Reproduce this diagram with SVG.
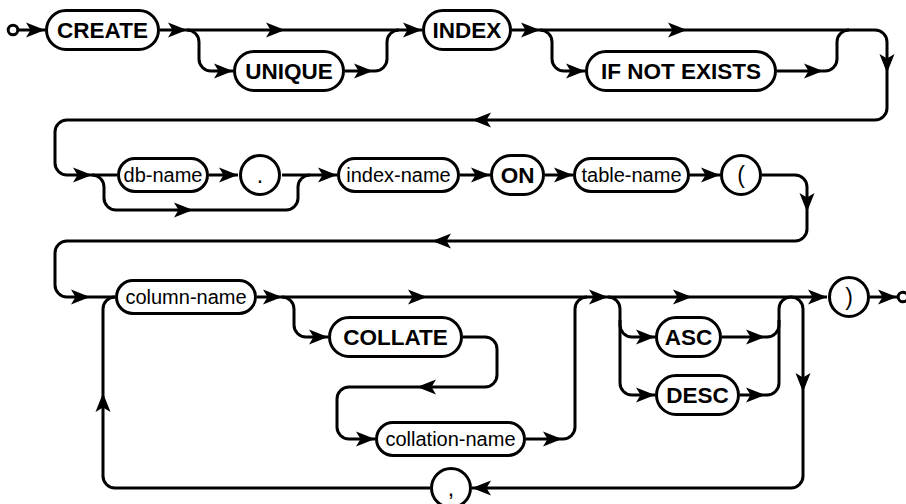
<svg xmlns="http://www.w3.org/2000/svg" xmlns:xlink="http://www.w3.org/1999/xlink" width="906" height="504" viewBox="0 0 906 504">
<style>
.ln{fill:none;stroke:#000;stroke-width:3}
.bx{fill:#fff;stroke:#000;stroke-width:3}
.kw{font-family:"Liberation Sans",Arial,sans-serif;font-weight:bold;font-size:22.5px;text-anchor:middle;fill:#000}
.pn{font-family:"Liberation Sans",Arial,sans-serif;font-size:23px;text-anchor:middle;fill:#000}
.id{font-family:"Liberation Sans",Arial,sans-serif;font-size:20px;text-anchor:middle;fill:#000}
.ah{fill:#000;stroke:none}
</style>
<defs>
<path id="a" class="ah" d="M0,0 L-19,-7.5 L-14.5,0 L-19,7.5 Z"/>
</defs>
<rect width="906" height="504" fill="#fff"/>
<g id="connectors">
<path class="ln" d="M17,30 H45"/>
<path class="ln" d="M160,30 H422"/>
<path class="ln" d="M187,30 A12,12 0 0 1 199,42 V59 A12,12 0 0 0 211,71 H233"/>
<path class="ln" d="M345,71 H375 A12,12 0 0 0 387,59 V42 A12,12 0 0 1 399,30"/>
<path class="ln" d="M512,30 H875 A12,12 0 0 1 887,42 V108 A12,12 0 0 1 875,120 H67 A12,12 0 0 0 55,132 V163 A12,12 0 0 0 67,175 H117"/>
<path class="ln" d="M540,30 A12,12 0 0 1 552,42 V59 A12,12 0 0 0 564,71 H585"/>
<path class="ln" d="M777,71 H825 A12,12 0 0 0 837,59 V42 A12,12 0 0 1 849,30"/>
<path class="ln" d="M92,175 A12,12 0 0 1 104,187 V198 A12,12 0 0 0 116,210 H286 A12,12 0 0 0 298,198 V187 A12,12 0 0 1 310,175"/>
<path class="ln" d="M209,175 H238"/>
<path class="ln" d="M282,175 H337"/>
<path class="ln" d="M460,175 H490"/>
<path class="ln" d="M545,175 H573"/>
<path class="ln" d="M690,175 H720"/>
<path class="ln" d="M762,175 H795 A12,12 0 0 1 807,187 V229 A12,12 0 0 1 795,241 H67 A12,12 0 0 0 55,253 V285 A12,12 0 0 0 67,297 H115"/>
<path class="ln" d="M257,297 H827"/>
<path class="ln" d="M282,297 A12,12 0 0 1 294,309 V325 A12,12 0 0 0 306,337 H328"/>
<path class="ln" d="M463,337 H485 A12,12 0 0 1 497,349 V375 A12,12 0 0 1 485,387 H349 A12,12 0 0 0 337,399 V427 A12,12 0 0 0 349,439 H375"/>
<path class="ln" d="M526,439 H563 A12,12 0 0 0 575,427 V309 A12,12 0 0 1 587,297"/>
<path class="ln" d="M608,297 A12,12 0 0 1 620,309 V325 A12,12 0 0 0 632,337 H655"/>
<path class="ln" d="M620,320 V383 A12,12 0 0 0 632,395 H655"/>
<path class="ln" d="M722,337 H767 A12,12 0 0 0 779,325 V309 A12,12 0 0 1 791,297"/>
<path class="ln" d="M740,395 H767 A12,12 0 0 0 779,383 V320"/>
<path class="ln" d="M791,297 A12,12 0 0 1 803,309 V476 A12,12 0 0 1 791,488 H472"/>
<path class="ln" d="M430,488 H115 A12,12 0 0 1 103,476 V309 A12,12 0 0 1 115,297"/>
<path class="ln" d="M870,297 H897"/>
<use xlink:href="#a" transform="translate(45,30)"/>
<use xlink:href="#a" transform="translate(187,30)"/>
<use xlink:href="#a" transform="translate(285,30)"/>
<use xlink:href="#a" transform="translate(233,71)"/>
<use xlink:href="#a" transform="translate(373,71)"/>
<use xlink:href="#a" transform="translate(422,30)"/>
<use xlink:href="#a" transform="translate(540,30)"/>
<use xlink:href="#a" transform="translate(687,30)"/>
<use xlink:href="#a" transform="translate(585,71)"/>
<use xlink:href="#a" transform="translate(823,71)"/>
<use xlink:href="#a" transform="translate(887,73) rotate(90)"/>
<use xlink:href="#a" transform="translate(472,120) rotate(180)"/>
<use xlink:href="#a" transform="translate(92,175)"/>
<use xlink:href="#a" transform="translate(193,210)"/>
<use xlink:href="#a" transform="translate(238,175)"/>
<use xlink:href="#a" transform="translate(337,175)"/>
<use xlink:href="#a" transform="translate(490,175)"/>
<use xlink:href="#a" transform="translate(573,175)"/>
<use xlink:href="#a" transform="translate(720,175)"/>
<use xlink:href="#a" transform="translate(807,212) rotate(90)"/>
<use xlink:href="#a" transform="translate(432,241) rotate(180)"/>
<use xlink:href="#a" transform="translate(90,297)"/>
<use xlink:href="#a" transform="translate(282,297)"/>
<use xlink:href="#a" transform="translate(427,297)"/>
<use xlink:href="#a" transform="translate(328,337)"/>
<use xlink:href="#a" transform="translate(417,387) rotate(180)"/>
<use xlink:href="#a" transform="translate(375,439)"/>
<use xlink:href="#a" transform="translate(562,439)"/>
<use xlink:href="#a" transform="translate(608,297)"/>
<use xlink:href="#a" transform="translate(692,297)"/>
<use xlink:href="#a" transform="translate(655,337)"/>
<use xlink:href="#a" transform="translate(655,395)"/>
<use xlink:href="#a" transform="translate(765,337)"/>
<use xlink:href="#a" transform="translate(765,395)"/>
<use xlink:href="#a" transform="translate(827,297)"/>
<use xlink:href="#a" transform="translate(803,392) rotate(90)"/>
<use xlink:href="#a" transform="translate(472,488) rotate(180)"/>
<use xlink:href="#a" transform="translate(103,393) rotate(-90)"/>
<use xlink:href="#a" transform="translate(897,297)"/>
</g>
<g id="start"><circle class="bx" cx="13" cy="30" r="4.8"/></g>
<g id="end"><circle class="bx" cx="903" cy="297" r="4.8"/></g>
<g id="create"><rect class="bx" x="46.5" y="10.5" width="112" height="39" rx="19.5"/><text class="kw" x="102.5" y="38">CREATE</text></g>
<g id="unique"><rect class="bx" x="234.5" y="51.5" width="109" height="39" rx="19.5"/><text class="kw" x="289" y="79">UNIQUE</text></g>
<g id="index"><rect class="bx" x="423.5" y="10.5" width="87" height="39" rx="19.5"/><text class="kw" x="467" y="38">INDEX</text></g>
<g id="ifnotexists"><rect class="bx" x="586.5" y="51.5" width="189" height="39" rx="19.5"/><text class="kw" x="681" y="79">IF NOT EXISTS</text></g>
<g id="dbname"><rect class="bx" x="118.5" y="158.5" width="89" height="33" rx="16.5"/><text class="id" x="163" y="182">db-name</text></g>
<g id="dot"><circle class="bx" cx="260" cy="175" r="19.5"/><text class="pn" x="260" y="183">.</text></g>
<g id="indexname"><rect class="bx" x="338.5" y="158.5" width="120" height="33" rx="16.5"/><text class="id" x="398.5" y="182">index-name</text></g>
<g id="on"><rect class="bx" x="491.5" y="155.5" width="52" height="39" rx="19.5"/><text class="kw" x="517.5" y="183">ON</text></g>
<g id="tablename"><rect class="bx" x="574.5" y="158.5" width="114" height="33" rx="16.5"/><text class="id" x="631.5" y="182">table-name</text></g>
<g id="lparen"><circle class="bx" cx="741" cy="175" r="19.5"/><text class="pn" x="741" y="183">(</text></g>
<g id="columnname"><rect class="bx" x="116.5" y="280.5" width="139" height="33" rx="16.5"/><text class="id" x="186" y="304">column-name</text></g>
<g id="collate"><rect class="bx" x="329.5" y="317.5" width="132" height="39" rx="19.5"/><text class="kw" x="395.5" y="345">COLLATE</text></g>
<g id="collationname"><rect class="bx" x="376.5" y="422.5" width="148" height="33" rx="16.5"/><text class="id" x="450.5" y="446">collation-name</text></g>
<g id="asc"><rect class="bx" x="656.5" y="317.5" width="64" height="39" rx="19.5"/><text class="kw" x="688.5" y="345">ASC</text></g>
<g id="desc"><rect class="bx" x="656.5" y="375.5" width="82" height="39" rx="19.5"/><text class="kw" x="697.5" y="403">DESC</text></g>
<g id="rparen"><circle class="bx" cx="849" cy="297" r="19.5"/><text class="pn" x="849" y="305">)</text></g>
<g id="comma"><circle class="bx" cx="451" cy="488" r="19.5"/><text class="pn" x="451" y="496">,</text></g>
</svg>
